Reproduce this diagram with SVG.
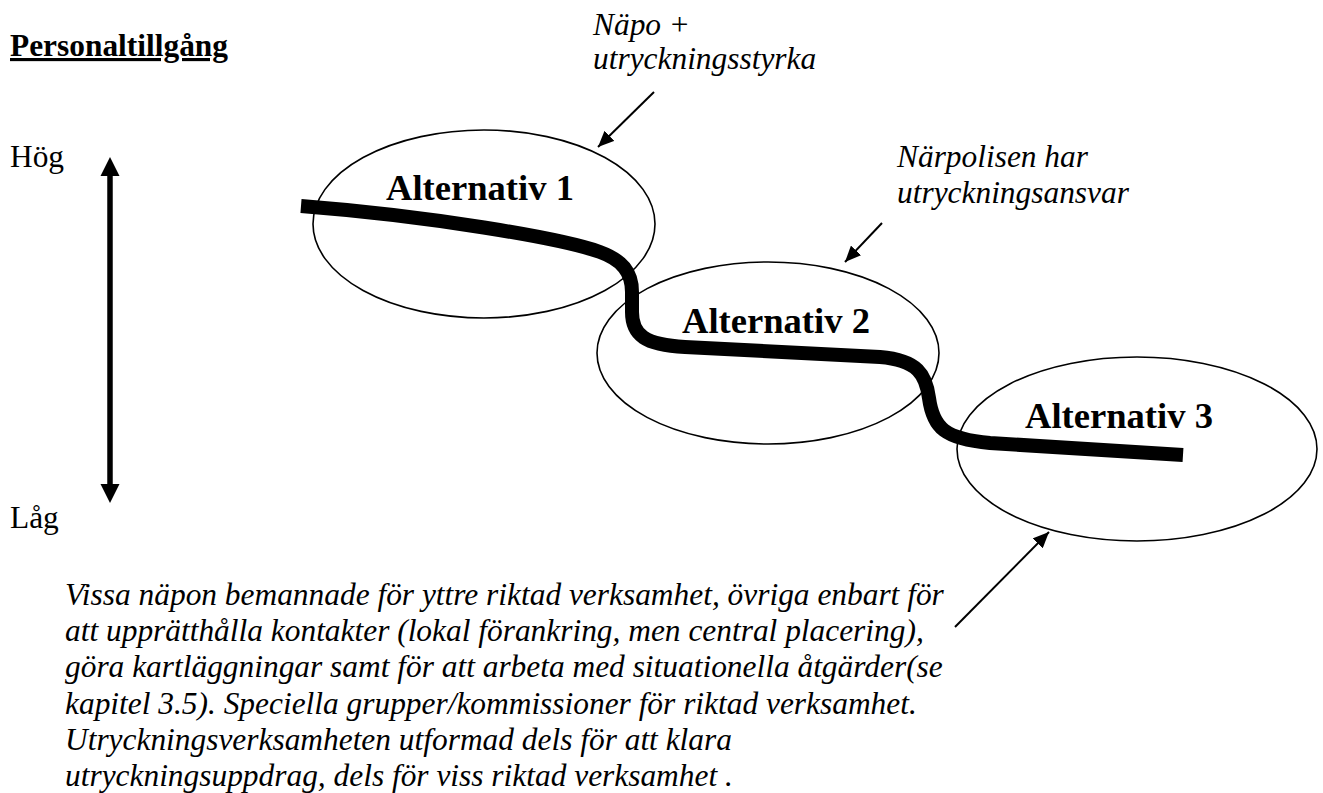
<svg xmlns="http://www.w3.org/2000/svg" width="1323" height="793" viewBox="0 0 1323 793">
<style>
text{font-family:"Liberation Serif","Times New Roman",serif;fill:#000}
.it{font-style:italic;font-size:31.4px}
.alt{font-weight:bold;font-size:36.6px}
.lab{font-size:31.4px}
.ell{fill:none;stroke:#000;stroke-width:1.6}
.thin{stroke:#000;stroke-width:2;fill:none;marker-end:url(#ah)}
</style>
<defs>
<marker id="ah" markerUnits="userSpaceOnUse" markerWidth="18" markerHeight="14" refX="16" refY="7" orient="auto">
<path d="M0,0 L16,7 L0,14 z" fill="#000"/>
</marker>
</defs>
<rect width="1323" height="793" fill="#fff"/>
<g id="title">
<text x="10" y="56" style="font-weight:bold;font-size:31.4px;text-decoration:underline">Personaltillgång</text>
</g>
<g id="axis">
<text class="lab" x="10" y="167">Hög</text>
<text class="lab" x="10" y="528">Låg</text>
<line x1="110" y1="172" x2="110" y2="488" stroke="#000" stroke-width="5.5"/>
<polygon points="110,157 100.5,176 119.5,176" fill="#000"/>
<polygon points="110,503 100.5,484 119.5,484" fill="#000"/>
</g>
<g id="alt1">
<ellipse class="ell" cx="484" cy="224" rx="171" ry="94"/>
<text class="alt" x="386" y="200">Alternativ 1</text>
</g>
<g id="alt2">
<ellipse class="ell" cx="768" cy="353" rx="171" ry="91"/>
<text class="alt" x="682" y="333">Alternativ 2</text>
</g>
<g id="alt3">
<ellipse class="ell" cx="1137" cy="449" rx="180" ry="92"/>
<text class="alt" x="1025" y="428">Alternativ 3</text>
</g>
<g id="label-napo">
<text class="it" x="593" y="35">Näpo +</text>
<text class="it" x="593" y="69">utryckningsstyrka</text>
</g>
<g id="label-narpolis">
<text class="it" x="897" y="167">Närpolisen har</text>
<text class="it" x="897" y="203">utryckningsansvar</text>
</g>
<g id="label-paragraph">
<text class="it" x="65" y="605">Vissa näpon bemannade för yttre riktad verksamhet, övriga enbart för</text>
<text class="it" x="65" y="641">att upprätthålla kontakter (lokal förankring, men central placering),</text>
<text class="it" x="65" y="677">göra kartläggningar samt för att arbeta med situationella åtgärder(se</text>
<text class="it" x="65" y="714">kapitel 3.5). Speciella grupper/kommissioner för riktad verksamhet.</text>
<text class="it" x="65" y="750">Utryckningsverksamheten utformad dels för att klara</text>
<text class="it" x="65" y="786">utryckningsuppdrag, dels för viss riktad verksamhet .</text>
</g>
<g id="connectors">
<path d="M301,206 C430,216 560,238 600,252 C622,260 632,272 632,292 L632,312 C632,335 645,345 685,347 L880,357 C918,360 926,375 929,398 C933,428 945,439 990,443 L1183,455" fill="none" stroke="#000" stroke-width="14"/>
<line class="thin" x1="654" y1="92" x2="598" y2="147"/>
<line class="thin" x1="882" y1="223" x2="845" y2="262"/>
<line class="thin" x1="955" y1="627" x2="1049" y2="532"/>
</g>
</svg>
